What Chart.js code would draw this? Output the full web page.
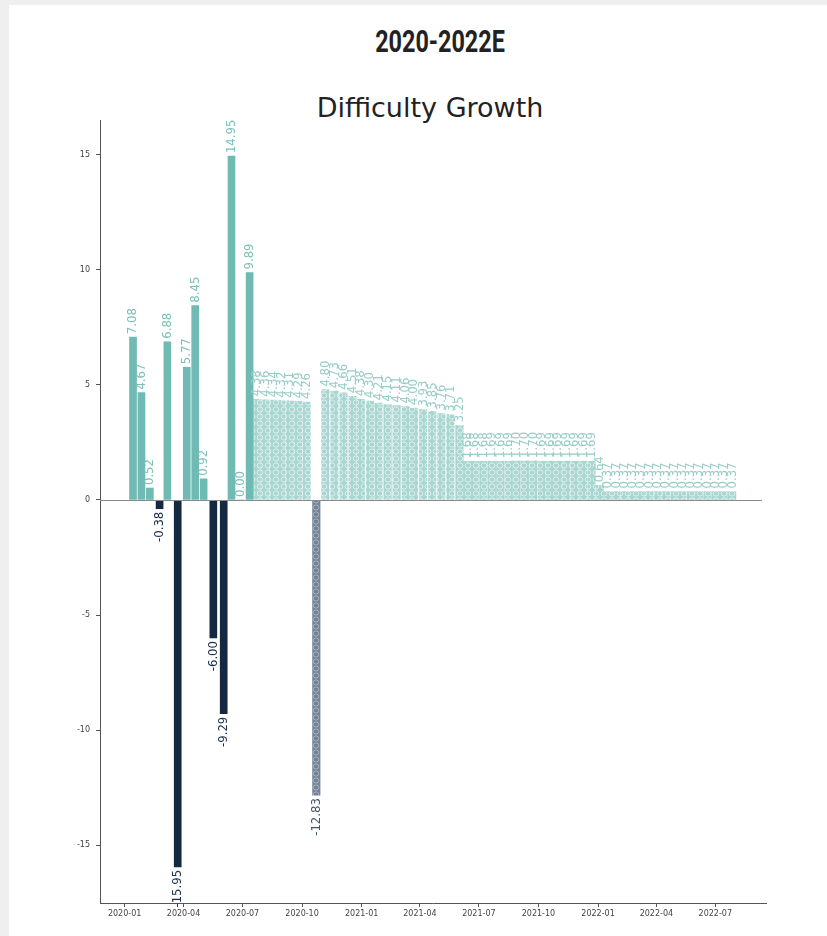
<!DOCTYPE html>
<html>
<head>
<meta charset="utf-8">
<script src="https://cdn.jsdelivr.net/npm/chart.js@4.4.0/dist/chart.umd.min.js"></script>
<style>
  html, body { margin: 0; padding: 0; background: #efefef; }
  #page { position: absolute; left: 9px; top: 5px; width: 818px; height: 931px; background: #fff; }
  #heading { position: absolute; left: 290px; top: 21px; width: 300px; text-align: center;
    font: bold 32px/40px "Liberation Sans Narrow", "Roboto", sans-serif; color: #222; transform: scaleX(0.73); }
  #title { position: absolute; left: 230px; top: 93px; width: 400px; text-align: center;
    font: 27px/30px "DejaVu Sans", sans-serif; color: #222; }
  #c { position: absolute; left: 0; top: 0; }
</style>
</head>
<body>
<div id="page"></div>
<div id="heading">2020-2022E</div>
<div id="title">Difficulty Growth</div>
<canvas id="c" width="827" height="936"></canvas>
<script>
// days since 2020-01-01 for each difficulty adjustment
const actualDays = [13, 26, 39, 54, 66, 82, 96, 109, 122, 137, 153, 165, 179, 193];
const actualGrowth = [7.08, 4.67, 0.52, -0.38, 6.88, -15.95, 5.77, 8.45, 0.92, -6.00, -9.29, 14.95, 0.00, 9.89];

// estimated adjustments (E)
const estDays = [204, 217, 230, 242, 255, 268, 281,
  296,
  310, 324, 338, 352, 365, 379, 392, 406, 420, 434, 447, 461, 475, 489, 503, 517,
  529, 541, 554, 567, 580, 593, 605, 618, 631, 644, 657, 669, 682, 695, 708, 721,
  734,
  746, 759, 772, 785, 797, 810, 823, 836, 849, 861, 874, 887, 900, 913, 925, 938];
const estGrowth = [4.38, 4.36, 4.34, 4.32, 4.31, 4.29, 4.26,
  -12.83,
  4.80, 4.73, 4.66, 4.51, 4.38, 4.30, 4.21, 4.15, 4.11, 4.06, 4.00, 3.93, 3.85, 3.76, 3.71, 3.25,
  1.68, 1.68, 1.68, 1.69, 1.69, 1.69, 1.70, 1.70, 1.70, 1.69, 1.69, 1.69, 1.69, 1.69, 1.69, 1.69,
  0.64,
  0.37, 0.37, 0.37, 0.37, 0.37, 0.37, 0.37, 0.37, 0.37, 0.37, 0.37, 0.37, 0.37, 0.37, 0.37, 0.37];

const xTickDays = [0, 91, 182, 274, 366, 456, 547, 639, 731, 821, 912];
const xTickLabels = ['2020-01', '2020-04', '2020-07', '2020-10', '2021-01', '2021-04',
  '2021-07', '2021-10', '2022-01', '2022-04', '2022-07'];
const yTickValues = [-15, -10, -5, 0, 5, 10, 15];

const teal = '#6fbab2';
const navy = '#14283f';

const canvas = document.getElementById('c');
const ctx = canvas.getContext('2d');

function makePattern(fill, line) {
  const p = document.createElement('canvas');
  p.width = 8; p.height = 7;
  const g = p.getContext('2d');
  g.fillStyle = fill;
  g.fillRect(0, 0, 8, 7);
  g.strokeStyle = line;
  g.lineWidth = 1;
  g.beginPath();
  g.ellipse(4, 3.5, 2.8, 2.6, 0, 0, Math.PI * 2);
  g.stroke();
  return ctx.createPattern(p, 'repeat');
}
const estPos = makePattern('#a9d6d0', 'rgba(255,255,255,0.6)');
const estNeg = makePattern('#738294', 'rgba(200,208,218,0.6)');

const labelColors = [
  { pos: '#7cc0b9', neg: '#1b2f48' },
  { pos: '#9acdc7', neg: '#46566a' }
];

// zero line (axhline)
const zeroLine = {
  id: 'zeroLine',
  afterDatasetsDraw(chart) {
    const y = Math.round(chart.scales.y.getPixelForValue(0)) + 0.5;
    const a = chart.chartArea;
    const c = chart.ctx;
    c.save();
    c.strokeStyle = '#8a8a8a';
    c.lineWidth = 1;
    c.beginPath();
    c.moveTo(a.left, y);
    c.lineTo(a.right - 4, y);
    c.stroke();
    c.restore();
  }
};

// rotated value labels at bar ends
const barLabels = {
  id: 'barLabels',
  afterDatasetsDraw(chart) {
    const c = chart.ctx;
    c.save();
    c.font = '13px "Liberation Sans Narrow", "DejaVu Sans Condensed", sans-serif';
    c.textBaseline = 'middle';
    chart.data.datasets.forEach((ds, di) => {
      const meta = chart.getDatasetMeta(di);
      meta.data.forEach((bar, i) => {
        const v = ds.data[i].y;
        c.save();
        c.translate(bar.x, v < 0 ? bar.y + 3 : bar.y - 3);
        c.rotate(-Math.PI / 2);
        c.textAlign = v < 0 ? 'right' : 'left';
        c.fillStyle = v < 0 ? labelColors[di].neg : labelColors[di].pos;
        c.fillText(v.toFixed(2), 0, 0);
        c.restore();
      });
    });
    c.restore();
  }
};

new Chart(ctx, {
  type: 'bar',
  data: {
    datasets: [{
      data: actualDays.map((d, i) => ({ x: d, y: actualGrowth[i] })),
      backgroundColor: (c) => (c.raw && c.raw.y < 0 ? navy : teal),
      barThickness: 7,
      grouped: false
    }, {
      data: estDays.map((d, i) => ({ x: d, y: estGrowth[i] })),
      backgroundColor: (c) => (c.raw && c.raw.y < 0 ? estNeg : estPos),
      borderWidth: 0,
      barThickness: 7.5,
      grouped: false
    }]
  },
  options: {
    responsive: false,
    animation: false,
    events: [],
    layout: { padding: { left: 40, right: 61, top: 120, bottom: 8 } },
    plugins: { legend: { display: false }, tooltip: { enabled: false } },
    scales: {
      x: {
        type: 'linear',
        min: -38,
        max: 990.3,
        offset: false,
        afterBuildTicks: (s) => { s.ticks = xTickDays.map(v => ({ value: v })); },
        afterFit: (s) => { s.height = 25; },
        grid: { display: true, drawOnChartArea: false, offset: false, tickLength: 4, tickColor: '#555' },
        border: { color: '#555' },
        ticks: {
          autoSkip: false, maxRotation: 0, padding: 2, color: '#444',
          font: { family: 'DejaVu Sans', size: 8 },
          callback: (v) => xTickLabels[xTickDays.indexOf(v)]
        }
      },
      y: {
        min: -17.52,
        max: 16.52,
        afterBuildTicks: (s) => { s.ticks = yTickValues.map(v => ({ value: v })); },
        afterFit: (s) => { s.width = 60; },
        grid: { display: true, drawOnChartArea: false, tickLength: 4, tickColor: '#555' },
        border: { color: '#555' },
        ticks: { padding: 6, color: '#444', font: { family: 'DejaVu Sans', size: 8 } }
      }
    }
  },
  plugins: [zeroLine, barLabels]
});
</script>
</body>
</html>
